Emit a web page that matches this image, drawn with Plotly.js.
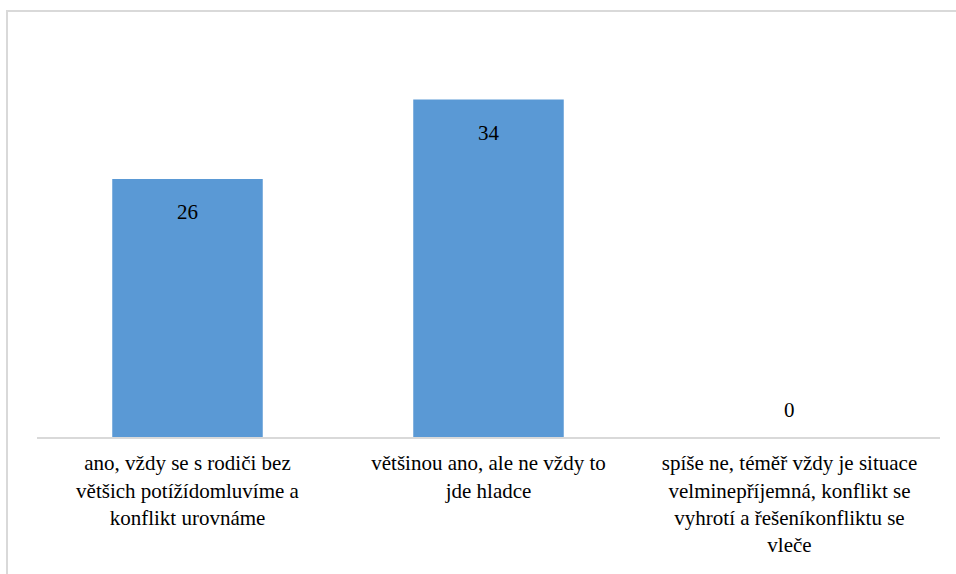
<!DOCTYPE html>
<html>
<head>
<meta charset="utf-8">
<script src="https://cdn.plot.ly/plotly-3.0.1.min.js"></script>
<style>
  html, body { margin: 0; padding: 0; background: #fff; }
  #chart { width: 956px; height: 574px; position: absolute; left: 0; top: 0; }
  #frame { position: absolute; left: 6px; top: 10px; width: 948px; height: 562px;
           border-top: 2px solid #d9d9d9; border-left: 2px solid #d9d9d9; pointer-events: none; }
</style>
</head>
<body>
<div id="chart"></div>
<div id="frame"></div>
<script>
const categories = [
  "ano, v\u017edy se s rodi\u010di bez<br>v\u011bt\u0161ich pot\u00ed\u017e\u00eddomluv\u00edme a<br>konflikt urovn\u00e1me",
  "v\u011bt\u0161inou ano, ale ne v\u017edy to<br>jde hladce",
  "sp\u00ed\u0161e ne, t\u00e9m\u011b\u0159 v\u017edy je situace<br>velminep\u0159\u00edjemn\u00e1, konflikt se<br>vyhrot\u00ed a \u0159e\u0161en\u00edkonfliktu se<br>vle\u010de"
];
const values = [26, 34, 0];
const labels = values.map(String);

const FONT = "Liberation Serif";

const annotations = values.map((v, i) => ({
  x: categories[i], y: v, xref: 'x', yref: 'y',
  text: labels[i], showarrow: false,
  yanchor: v === 0 ? 'bottom' : 'top',
  yshift: v === 0 ? 13 : -19,
  font: { family: FONT, size: 21, color: '#000000' }
}));

const trace = {
  type: 'bar',
  x: categories,
  y: values,
  marker: { color: '#5a99d5' },
  hoverinfo: 'none'
};

const layout = {
  width: 956, height: 574,
  margin: { l: 37, r: 16, t: 40, b: 137 },
  paper_bgcolor: '#ffffff', plot_bgcolor: '#ffffff',
  bargap: 0.5,
  showlegend: false,
  font: { family: FONT, size: 21, color: '#000000' },
  xaxis: {
    type: 'category',
    showline: true, linecolor: '#d9d9d9', linewidth: 2,
    showgrid: false, zeroline: false,
    ticks: 'outside', ticklen: 6, tickcolor: 'rgba(0,0,0,0)',
    tickfont: { family: FONT, size: 21, color: '#000000' }
  },
  yaxis: {
    range: [0, 40], visible: false, showgrid: false, zeroline: false
  },
  annotations: annotations
};

Plotly.newPlot('chart', [trace], layout, { staticPlot: true, displayModeBar: false });
</script>
</body>
</html>
